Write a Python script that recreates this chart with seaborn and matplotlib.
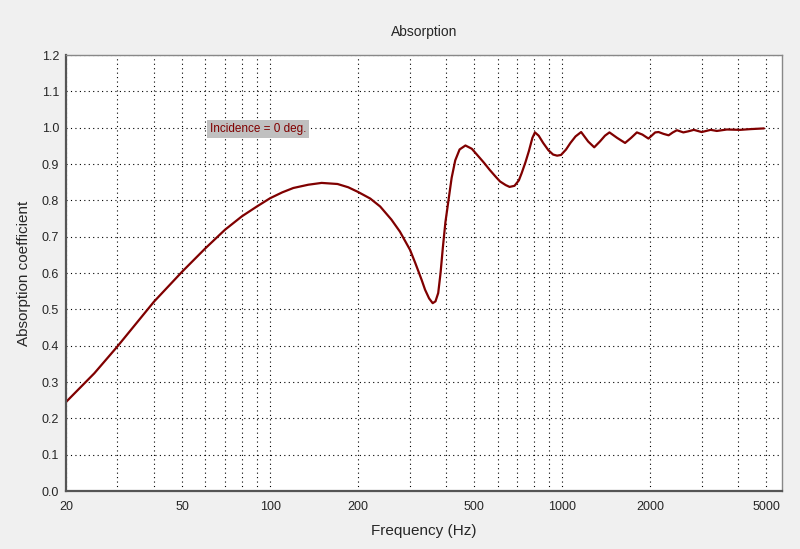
"""Absorption coefficient versus frequency, normal incidence."""

import matplotlib

matplotlib.use("Agg")
import matplotlib.pyplot as plt
import pandas as pd
import seaborn as sns
from matplotlib.ticker import FixedLocator, FixedFormatter, NullFormatter

# values
freq_hz = [
    20, 25, 30, 40, 50, 60, 70, 80, 90, 100, 110, 120, 135, 150, 170, 185,
    200, 220, 238, 260, 278, 301, 314, 330, 339, 350, 360, 368, 376, 383,
    390, 398, 408, 418, 430, 445, 466, 490, 510, 540, 564, 590, 612, 640,
    660, 686, 710, 726, 748, 768, 790, 806, 830, 860, 896, 930, 960, 990,
    1030, 1066, 1110, 1160, 1226, 1286, 1345, 1400, 1450, 1540, 1640, 1720,
    1800, 1880, 1972, 2080, 2136, 2220, 2312, 2390, 2468, 2596, 2700, 2820,
    3000, 3220, 3380, 3660, 4060, 4400, 4900,
]
absorption = [
    0.245, 0.324, 0.398, 0.521, 0.604, 0.668, 0.719, 0.756, 0.783, 0.806,
    0.822, 0.834, 0.843, 0.848, 0.845, 0.836, 0.823, 0.805, 0.783, 0.747,
    0.714, 0.664, 0.627, 0.581, 0.554, 0.530, 0.517, 0.522, 0.545, 0.600,
    0.670, 0.740, 0.802, 0.862, 0.910, 0.940, 0.951, 0.942, 0.926, 0.903,
    0.884, 0.866, 0.852, 0.842, 0.837, 0.840, 0.855, 0.875, 0.905, 0.935,
    0.972, 0.987, 0.978, 0.958, 0.938, 0.926, 0.923, 0.925, 0.940, 0.958,
    0.976, 0.988, 0.962, 0.946, 0.962, 0.978, 0.987, 0.972, 0.958, 0.972,
    0.987, 0.981, 0.970, 0.987, 0.988, 0.983, 0.979, 0.987, 0.993, 0.987,
    0.990, 0.994, 0.988, 0.994, 0.991, 0.995, 0.994, 0.996, 0.998,
]
x_ticks = [20, 50, 100, 200, 500, 1000, 2000, 5000]
x_minor = [30, 40, 60, 70, 80, 90, 300, 400, 600, 700, 800, 900,
           3000, 4000]
y_ticks = [0.0, 0.1, 0.2, 0.3, 0.4, 0.5, 0.6, 0.7, 0.8, 0.9, 1.0, 1.1, 1.2]

df = pd.DataFrame({"Frequency (Hz)": freq_hz, "Absorption coefficient": absorption})

sns.set_style("white")
plt.rcParams["font.family"] = ["Liberation Sans", "DejaVu Sans"]

fig = plt.figure(figsize=(8, 5.49), dpi=100, facecolor="#f0f0f0")
ax = fig.add_axes([0.0825, 0.1056, 0.895, 0.7942])
ax.set_facecolor("white")

sns.lineplot(data=df, x="Frequency (Hz)", y="Absorption coefficient",
             color="#800000", linewidth=1.6, ax=ax)

ax.set_xscale("log")
ax.set_xlim(20, 5650)
ax.set_ylim(0, 1.2)

ax.xaxis.set_major_locator(FixedLocator(x_ticks))
ax.xaxis.set_major_formatter(FixedFormatter([str(t) for t in x_ticks]))
ax.xaxis.set_minor_locator(FixedLocator(x_minor))
ax.xaxis.set_minor_formatter(NullFormatter())
ax.set_yticks(y_ticks)
ax.set_yticklabels([f"{t:.1f}" for t in y_ticks])

ax.grid(True, which="both", axis="x", color="black", linestyle=(0, (1, 3)),
        linewidth=0.8)
ax.grid(True, which="major", axis="y", color="black", linestyle=(0, (1, 3)),
        linewidth=0.8)

for side in ["left", "bottom"]:
    ax.spines[side].set_color("#555555")
    ax.spines[side].set_linewidth(1.6)
for side in ["top", "right"]:
    ax.spines[side].set_color("#888888")
    ax.spines[side].set_linewidth(1.0)

ax.tick_params(axis="y", which="major", direction="out", length=3, width=1,
               color="#555555", labelsize=9, pad=2)
ax.tick_params(axis="x", which="both", length=0, labelsize=9, pad=7)

ax.set_xlabel("Frequency (Hz)", fontsize=11, labelpad=8)
ax.set_ylabel("Absorption coefficient", fontsize=11, labelpad=8)
ax.set_title("Absorption", fontsize=10, pad=14)

ax.text(62, 0.996, "Incidence = 0 deg.", color="#800000", fontsize=8.5,
        va="center", ha="left",
        bbox=dict(facecolor="#c0c0c0", edgecolor="none", pad=2))

fig.savefig("out.png", dpi=100, facecolor=fig.get_facecolor())
